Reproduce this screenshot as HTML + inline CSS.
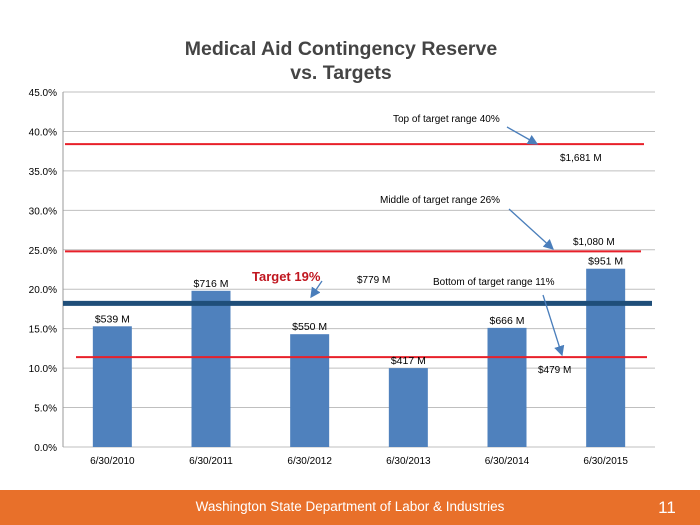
<!DOCTYPE html>
<html><head><meta charset="utf-8"><style>
body{margin:0;background:#fff;}
svg{display:block;font-family:"Liberation Sans",Arial,sans-serif;}
</style></head><body>
<svg id="c" width="700" height="525" viewBox="0 0 700 525">
<defs><marker id="ah" markerWidth="8" markerHeight="8" refX="7" refY="4" orient="auto"><path d="M0,0 L8,4 L0,8 z" fill="#4a7ebb"/></marker></defs>
<text x="341" y="55" text-anchor="middle" font-size="19.5" font-weight="bold" fill="#444">Medical Aid Contingency Reserve</text>
<text x="341" y="79" text-anchor="middle" font-size="19.5" font-weight="bold" fill="#444">vs. Targets</text>
<g id="grid"></g><g id="bars"></g><g id="lines"></g><g id="labels"></g>
<rect x="0" y="490" width="700" height="35" fill="#e8702a"/>
<text x="350" y="511" text-anchor="middle" font-size="13.5" fill="#fff">Washington State Department of Labor &amp; Industries</text>
<text x="667" y="513" text-anchor="middle" font-size="17" fill="#fff">11</text>
</svg>
<script>
const categories=["6/30/2010","6/30/2011","6/30/2012","6/30/2013","6/30/2014","6/30/2015"];
const values=[15.3,19.8,14.3,10.0,15.1,22.6];
const valueLabels=["$539 M","$716 M","$550 M","$417 M","$666 M","$951 M"];
const yTicks=[0,5,10,15,20,25,30,35,40,45];
const targetTop=38.4, targetMid=24.8, targetBottom=11.4, target=18.2;
const NS="http://www.w3.org/2000/svg";
const x0=63,x1=655,yTop=92,yBot=447;
const y=v=>yBot-(v/45)*(yBot-yTop);
const band=(x1-x0)/categories.length;
const xc=i=>x0+band*(i+0.5);
function mk(tag,attrs,parent,txt){const e=document.createElementNS(NS,tag);for(const k in attrs)e.setAttribute(k,attrs[k]);if(txt!==undefined)e.textContent=txt;document.getElementById(parent).appendChild(e);return e;}
yTicks.forEach(t=>{
 const l=mk('line',{x1:x0,x2:x1,y1:y(t),y2:y(t),stroke:'#bfbfbf','stroke-width':1},'grid');
 
 
 const tx=mk('text',{x:x0-6,y:y(t)+4,'text-anchor':'end','font-size':10,fill:'#000'},'grid',t.toFixed(1)+'%');
 
 
});
const ax=mk('line',{x1:x0,x2:x0,y1:yTop,y2:yBot,stroke:'#999'},'grid');


categories.forEach((c,i)=>{
 const b=mk('rect',{x:xc(i)-19.5,y:y(values[i]),width:39,height:yBot-y(values[i]),fill:'#4f81bd'},'bars');
 
 
 const t=mk('text',{x:xc(i),y:yBot+17,'text-anchor':'middle','font-size':10,fill:'#000'},'labels',c);
 
 
 const v=mk('text',{x:xc(i),y:y(values[i])-4,'text-anchor':'middle','font-size':10.5,fill:'#000'},'labels',valueLabels[i]);
 
 
});
function hl(v,xa,xb,col,w,name){const l=mk('line',{x1:xa,x2:xb,y1:y(v),y2:y(v),stroke:col,'stroke-width':w},'lines');
 
 }
hl(targetTop,65,644,'#e8202a',2,'top-target-line');
hl(targetMid,65,641,'#e8202a',2,'middle-target-line');
hl(targetBottom,76,647,'#e8202a',2,'bottom-target-line');
hl(target,63,652,'#1f4e79',5,'target-line');
function lbl(x,yy,s,name,extra){const t=mk('text',Object.assign({x:x,y:yy,'font-size':10,fill:'#000'},extra||{}),'labels',s);
 
 }
lbl(393,122,'Top of target range 40%','top-range-label');
lbl(560,161,'$1,681 M','top-amount-label');
lbl(380,203,'Middle of target range 26%','middle-range-label');
lbl(573,245,'$1,080 M','middle-amount-label');
lbl(433,285,'Bottom of target range 11%','bottom-range-label');
lbl(357,283,'$779 M','target-amount-label');
lbl(538,373,'$479 M','bottom-amount-label');
lbl(252,281,'Target 19%','target-label',{'font-size':13,'font-weight':'bold',fill:'#c0161f'});
function ar(a,b,c,d){const l=mk('line',{x1:a,y1:b,x2:c,y2:d,stroke:'#4a7ebb','stroke-width':1.3,'marker-end':'url(#ah)'},'lines');
 
 }
ar(507,127,537,144);ar(509,209,553,249);ar(543,295,562,355);ar(322,281,311,297);
</script>
</body></html>
